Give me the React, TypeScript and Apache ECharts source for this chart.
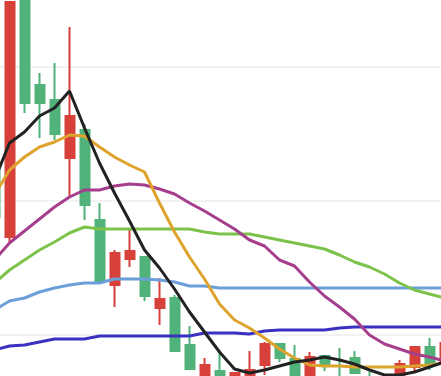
import React, { useEffect, useRef } from "react";
import * as echarts from "echarts";

const categories = [
  "D01", "D02", "D03", "D04", "D05", "D06", "D07", "D08", "D09", "D10", "D11",
  "D12", "D13", "D14", "D15", "D16", "D17", "D18", "D19", "D20", "D21", "D22",
  "D23", "D24", "D25", "D26", "D27", "D28", "D29", "D30", "D31", "D32",
];

// [open, close, lowest, highest]
const candles = [
  [306, 252, 244, 311],
  [232, 467, 226, 467],
  [489, 366, 356, 494],
  [384, 366, 331, 396],
  [369, 335, 329, 406],
  [311, 353, 271, 442],
  [339, 264, 249, 345],
  [249, 187, 187, 266],
  [184, 216, 162, 219],
  [210, 218, 202, 239],
  [212, 173, 168, 213],
  [161, 170, 144, 191],
  [171, 118, 117, 174],
  [124, 100, 99, 143],
  [87, 104, 81, 111],
  [98, 84, 79, 119],
  [84, 96, 79, 96],
  [87, 99, 81, 118],
  [104, 125, 94, 127],
  [125, 111, 107, 126],
  [110, 89, 84, 124],
  [87, 112, 81, 117],
  [113, 104, 98, 114],
  [91, 79, 74, 121],
  [111, 96, 95, 118],
  [89, 79, 74, 97],
  [77, 87, 73, 90],
  [87, 105, 81, 109],
  [102, 122, 97, 123],
  [122, 105, 99, 131],
  [106, 126, 101, 127],
  [119, 129, 114, 134],
];

const ma5 = [289, 326, 337, 353, 361, 378, 341, 306, 276, 248, 219, 201, 180, 157, 137, 117, 100, 96, 99, 103, 107, 109, 112, 109, 105, 99, 94, 94, 97, 102, 107, 111];
const ma10 = [274, 299, 312, 322, 327, 334, 333, 322, 312, 304, 297, 266, 237, 212, 190, 165, 149, 141, 131, 120, 111, 104, 103, 103, 102, 102, 102, 102, 103, 104, 106, 108];
const ma20 = [209, 226, 238, 250, 262, 272, 279, 279, 283, 285, 284, 280, 275, 266, 258, 249, 240, 229, 223, 209, 203, 187, 173, 162, 150, 134, 125, 120, 115, 112, 108, 105];
const ma30 = [186, 199, 209, 219, 227, 236, 242, 240, 240, 240, 240, 240, 240, 240, 237, 235, 235, 235, 232, 229, 226, 223, 220, 214, 207, 202, 195, 186, 179, 175, 171, 169];
const ma60 = [159, 168, 171, 177, 181, 184, 186, 186, 190, 190, 190, 189, 187, 183, 183, 181, 181, 181, 181, 181, 181, 181, 181, 181, 181, 181, 181, 181, 181, 181, 181, 181];
const ma120 = [119, 123, 124, 127, 130, 130, 130, 133, 133, 133, 133, 133, 133, 133, 136, 136, 136, 135, 138, 139, 139, 139, 139, 141, 142, 142, 142, 142, 142, 142, 142, 142];

const UP = "#d8403a";
const DOWN = "#51b27a";

function lineSeries(name: string, data: number[], color: string) {
  return {
    name,
    type: "line",
    data,
    smooth: false,
    showSymbol: false,
    symbol: "none",
    lineStyle: { color, width: 3 },
    itemStyle: { color },
  };
}

export default function App() {
  const ref = useRef<HTMLDivElement>(null);
  useEffect(() => {
    if (!ref.current) return;
    const chart = echarts.init(ref.current, undefined, { renderer: "svg" });
    chart.setOption({
      animation: false,
      backgroundColor: "#ffffff",
      grid: { left: 0, right: 0, top: 0, bottom: 0, containLabel: false },
      xAxis: {
        type: "category",
        data: categories,
        boundaryGap: true,
        axisLine: { show: false },
        axisTick: { show: false },
        axisLabel: { show: false },
        splitLine: { show: false },
      },
      yAxis: {
        type: "value",
        min: 0,
        max: 536,
        interval: 134,
        axisLine: { show: false },
        axisTick: { show: false },
        axisLabel: { show: false },
        splitLine: { show: true, lineStyle: { color: "#eeeeee", width: 1.5 } },
      },
      series: [
        {
          name: "K",
          type: "candlestick",
          data: candles,
          barWidth: 9.5,
          itemStyle: {
            color: UP,
            color0: DOWN,
            borderColor: UP,
            borderColor0: DOWN,
            borderWidth: 2,
          },
        },
        lineSeries("MA120", ma120, "#3a30c2"),
        lineSeries("MA60", ma60, "#6b9fda"),
        lineSeries("MA30", ma30, "#7dc24b"),
        lineSeries("MA20", ma20, "#a53f8d"),
        lineSeries("MA10", ma10, "#dea32c"),
        lineSeries("MA5", ma5, "#222222"),
      ],
    });
    return () => chart.dispose();
  }, []);
  return (
    <div
      style={{
        position: "fixed",
        left: 0,
        top: 0,
        width: 441,
        height: 376,
        overflow: "hidden",
        background: "#ffffff",
      }}
    >
      <div
        ref={ref}
        style={{ position: "absolute", left: -13.2, top: -67, width: 480, height: 536 }}
      />
    </div>
  );
}
